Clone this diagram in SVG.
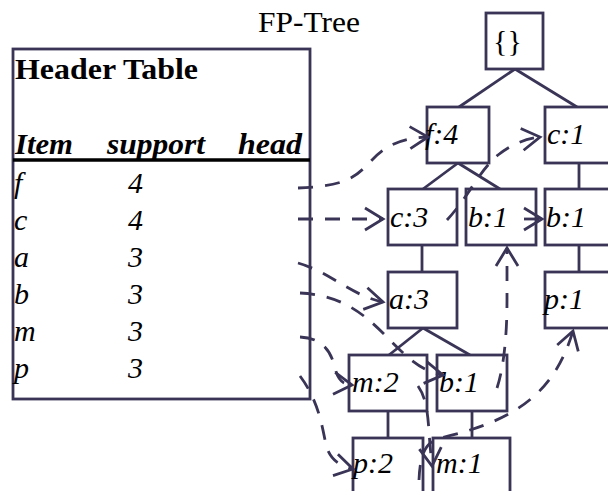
<svg xmlns="http://www.w3.org/2000/svg" width="608" height="491" viewBox="0 0 608 491">
  <style>
    .box { fill: #ffffff; stroke: #3a3456; stroke-width: 2.8; }
    .edge { fill: none; stroke: #3a3456; stroke-width: 2.8; }
    .link { fill: none; stroke: #3a3456; stroke-width: 2.8; stroke-dasharray: 15 12; marker-end: url(#arrow); }
    .lbl { font-family: "Liberation Serif", "Times New Roman", serif; font-size: 30px; font-style: italic; fill: #000000; }
    .hdr { font-family: "Liberation Serif", "Times New Roman", serif; font-size: 30px; font-weight: bold; fill: #000000; }
    .title { font-family: "Liberation Serif", "Times New Roman", serif; font-size: 30px; fill: #000000; }
  </style>
  <defs>
    <marker id="arrow" markerUnits="userSpaceOnUse" markerWidth="24" markerHeight="26" refX="19" refY="12" orient="auto" overflow="visible">
      <path d="M1,1 L19,12 L1,23" fill="none" stroke="#3a3456" stroke-width="2.8" stroke-dasharray="none"/>
    </marker>
  </defs>

  <rect width="608" height="491" fill="#ffffff"/>

  <text class="title" x="258" y="32" textLength="102" lengthAdjust="spacingAndGlyphs">FP-Tree</text>

  <!-- header table -->
  <g id="header-table">
    <rect x="13" y="49" width="297" height="350" fill="none" stroke="#3a3456" stroke-width="2.8"/>
    <text class="hdr" x="15" y="79" textLength="183" lengthAdjust="spacingAndGlyphs">Header Table</text>
    <text class="hdr" x="15" y="154" font-style="italic" textLength="58" lengthAdjust="spacingAndGlyphs">Item</text>
    <text class="hdr" x="107" y="154" font-style="italic" textLength="98" lengthAdjust="spacingAndGlyphs">support</text>
    <text class="hdr" x="238" y="154" font-style="italic" textLength="64" lengthAdjust="spacingAndGlyphs">head</text>
    <line x1="13" y1="160" x2="310" y2="160" stroke="#000000" stroke-width="3.4"/>
    <text class="lbl" x="14" y="193">f</text><text class="lbl" x="128" y="193">4</text>
    <text class="lbl" x="14" y="230">c</text><text class="lbl" x="128" y="230">4</text>
    <text class="lbl" x="14" y="267">a</text><text class="lbl" x="128" y="267">3</text>
    <text class="lbl" x="14" y="304">b</text><text class="lbl" x="128" y="304">3</text>
    <text class="lbl" x="14" y="341">m</text><text class="lbl" x="128" y="341">3</text>
    <text class="lbl" x="14" y="378">p</text><text class="lbl" x="128" y="378">3</text>
  </g>

  <!-- tree edges -->
  <g id="tree-edges">
    <line class="edge" x1="515" y1="69" x2="459" y2="107"/>
    <line class="edge" x1="515" y1="69" x2="577" y2="107"/>
    <line class="edge" x1="458" y1="163" x2="423" y2="189"/>
    <line class="edge" x1="458" y1="163" x2="500" y2="189"/>
    <line class="edge" x1="579" y1="163" x2="579" y2="189"/>
    <line class="edge" x1="422" y1="245" x2="422" y2="272"/>
    <line class="edge" x1="579" y1="245" x2="579" y2="272"/>
    <line class="edge" x1="423" y1="328" x2="389" y2="355"/>
    <line class="edge" x1="423" y1="328" x2="470" y2="355"/>
    <line class="edge" x1="388" y1="411" x2="388" y2="438"/>
    <line class="edge" x1="472" y1="411" x2="472" y2="438"/>
  </g>

  <!-- tree nodes -->
  <g id="node-root"><rect class="box" x="486" y="13" width="57" height="56"/><text class="title" x="493" y="51">{}</text></g>
  <g id="node-f4"><rect class="box" x="427" y="107" width="62" height="56"/><text class="lbl" x="425" y="144">f:4</text></g>
  <g id="node-c1"><rect class="box" x="545" y="107" width="70" height="56"/><text class="lbl" x="547" y="144">c:1</text></g>
  <g id="node-c3"><rect class="box" x="388" y="189" width="69" height="56"/><text class="lbl" x="390" y="227">c:3</text></g>
  <g id="node-b1-f"><rect class="box" x="466" y="189" width="70" height="56"/><text class="lbl" x="468" y="227">b:1</text></g>
  <g id="node-b1-c"><rect class="box" x="545" y="189" width="70" height="56"/><text class="lbl" x="546" y="227">b:1</text></g>
  <g id="node-a3"><rect class="box" x="388" y="272" width="69" height="56"/><text class="lbl" x="389" y="309">a:3</text></g>
  <g id="node-p1"><rect class="box" x="545" y="272" width="70" height="56"/><text class="lbl" x="544" y="309">p:1</text></g>
  <g id="node-m2"><rect class="box" x="349" y="355" width="78" height="56"/><text class="lbl" x="352" y="392">m:2</text></g>
  <g id="node-b1-a"><rect class="box" x="437" y="355" width="70" height="56"/><text class="lbl" x="439" y="392">b:1</text></g>
  <g id="node-p2"><rect class="box" x="353" y="438" width="70" height="70"/><text class="lbl" x="353" y="473">p:2</text></g>
  <g id="node-m1"><rect class="box" x="433" y="438" width="77" height="70"/><text class="lbl" x="436" y="473">m:1</text></g>

  <!-- node-links -->
  <g id="node-links">
    <path class="link" d="M298,188 C345,186 355,178 370,162 C385,146 400,138 428,137"/>
    <path class="link" d="M298,219 L383,219"/>
    <path class="link" d="M298,263 C330,272 352,296 383,302"/>
    <path class="link" d="M300,293 C340,295 362,312 385,335 C405,356 422,372 443,375"/>
    <path class="link" d="M300,337 C325,338 332,355 335,368 C338,380 342,384 352,385"/>
    <path class="link" d="M300,376 C318,400 322,425 326,445 C330,460 340,466 353,469"/>
    <path class="link" d="M447,220 C470,195 478,172 498,155 C512,144 525,139 540,137"/>
    <path class="link" d="M524,219 L542,219"/>
    <path class="link" d="M497,388 C503,370 507,340 507,300 L507,248"/>
    <path class="link" d="M418,386 C428,400 428,420 430,445 L432,466"/>
    <path class="link" d="M419,480 C420,455 425,442 440,438 C520,420 555,390 573,331"/>
  </g>
</svg>
